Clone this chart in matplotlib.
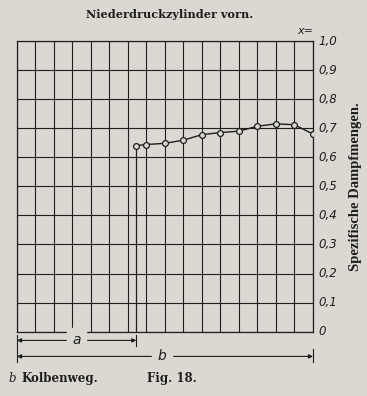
import numpy as np
import matplotlib
matplotlib.use("Agg")
import matplotlib.pyplot as plt
from matplotlib.ticker import FuncFormatter

# piston stroke in grid divisions (b = 16 divisions), a = point where admission ends
stroke_total = 16
stroke_a = 6.45
stroke = [6.45, 7, 8, 9, 10, 11, 12, 13, 14, 15, 16]
# specific steam quantity x
steam_x = [0.640, 0.644, 0.648, 0.659, 0.678, 0.685, 0.690, 0.707, 0.715, 0.712, 0.680]
y_ticks = [0, 0.1, 0.2, 0.3, 0.4, 0.5, 0.6, 0.7, 0.8, 0.9, 1.0]

paper = '#dad8d1'
ink = '#1e1e1e'

fig = plt.figure(figsize=(3.67, 3.96), dpi=100, facecolor=paper)
ax = fig.add_axes([0.0463, 0.1624, 0.8065, 0.734])
ax.set_facecolor(paper)

# grid
for gx in range(stroke_total + 1):
    ax.axvline(gx, color=ink, lw=0.8, zorder=1)
for gy in y_ticks:
    ax.axhline(gy, color=ink, lw=0.8, zorder=1)

# drop line from the first point
ax.plot([stroke[0], stroke[0]], [0, steam_x[0]], color=ink, lw=0.9, zorder=2)
ax.plot(stroke, steam_x, color=ink, lw=1.0, marker='o', ms=4.2,
        mfc=paper, mec=ink, mew=0.9, zorder=3)

ax.set_xlim(0, stroke_total)
ax.set_ylim(0, 1.0)
ax.set_xticks([])
for s in ax.spines.values():
    s.set_color(ink)
    s.set_linewidth(0.9)

ax.yaxis.tick_right()
ax.set_yticks(y_ticks)
ax.yaxis.set_major_formatter(FuncFormatter(
    lambda v, p: '0' if v == 0 else f'{v:.1f}'.replace('.', ',')))
ax.tick_params(axis='y', length=0, pad=4, labelsize=8.5, labelcolor=ink)
for lab in ax.get_yticklabels():
    lab.set_fontstyle('italic')
    lab.set_family('DejaVu Sans')
    lab.set_va('center')

ax.text(1.0, 1.035, 'x=', transform=ax.transAxes, ha='right', va='center',
        fontsize=8, style='italic', color=ink)
ax.text(1.142, 0.50, 'Spezifische Dampfmengen.', transform=ax.transAxes,
        rotation=90, ha='center', va='center', fontsize=10.5, fontweight='bold',
        family='Liberation Serif', color=ink)

fig.text(0.462, 0.963, 'Niederdruckzylinder vorn.', ha='center', va='center',
         fontsize=8.1, fontweight='bold', family='DejaVu Serif', color=ink)

# dimension arrows a and b below the grid
ya, yb = -0.03, -0.085
ax.annotate('', xy=(0, ya), xytext=(stroke_a, ya), xycoords='data',
            arrowprops=dict(arrowstyle='<|-|>', color=ink, lw=0.8,
                            mutation_scale=6, shrinkA=0, shrinkB=0),
            annotation_clip=False)
ax.annotate('', xy=(0, yb), xytext=(stroke_total, yb), xycoords='data',
            arrowprops=dict(arrowstyle='<|-|>', color=ink, lw=0.8,
                            mutation_scale=6, shrinkA=0, shrinkB=0),
            annotation_clip=False)
ax.plot([0, 0], [-0.01, -0.105], color=ink, lw=0.8, clip_on=False)
ax.plot([stroke_a, stroke_a], [-0.01, -0.05], color=ink, lw=0.8, clip_on=False)
ax.plot([stroke_total, stroke_total], [-0.06, -0.105], color=ink, lw=0.8, clip_on=False)
ax.text(stroke_a / 2, ya, 'a', ha='center', va='center', fontsize=10,
        style='italic', color=ink, backgroundcolor=paper, family='DejaVu Sans')
ax.text(7.85, yb, 'b', ha='center', va='center', fontsize=10,
        style='italic', color=ink, backgroundcolor=paper, family='DejaVu Sans')

fig.text(0.022, 0.043, 'b', ha='left', va='center', fontsize=8.5,
         style='italic', family='DejaVu Serif', color=ink)
fig.text(0.058, 0.043, 'Kolbenweg.', ha='left', va='center', fontsize=8.5,
         fontweight='bold', family='DejaVu Serif', color=ink)
fig.text(0.40, 0.045, 'Fig. 18.', ha='left', va='center', fontsize=8.5,
         fontweight='bold', family='DejaVu Serif', color=ink)

fig.savefig('out.png', dpi=100, facecolor=paper)
